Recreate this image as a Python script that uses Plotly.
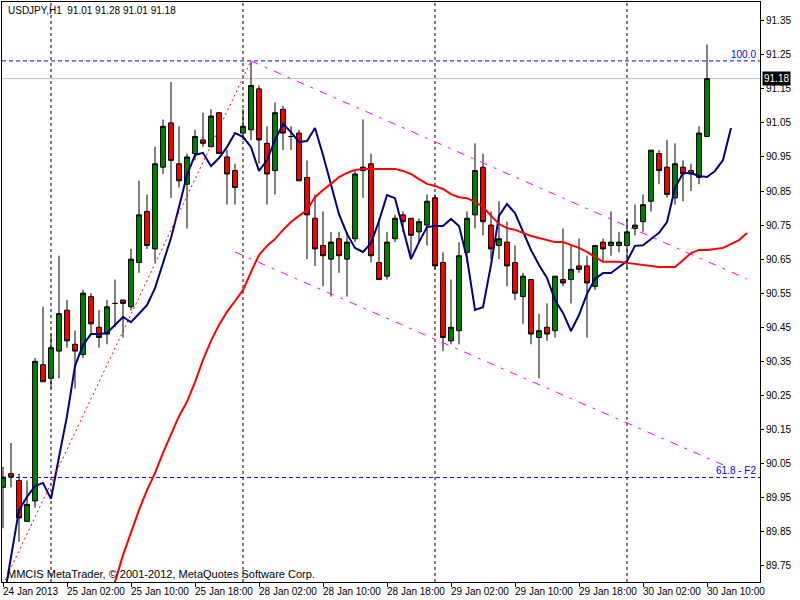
import plotly.graph_objects as go

# ---------------- data ----------------
symbol_title = "USDJPY,H1\u00a0\u00a091.01 91.28 91.01 91.18"
copyright_text = "MMCIS MetaTrader, \u00a9 2001-2012, MetaQuotes Software Corp."

label_bars = [0, 8, 16, 24, 32, 40, 48, 56, 64, 72, 80, 88]
time_labels = ["24 Jan 2013", "25 Jan 02:00", "25 Jan 10:00", "25 Jan 18:00",
               "28 Jan 02:00", "28 Jan 10:00", "28 Jan 18:00", "29 Jan 02:00",
               "29 Jan 10:00", "29 Jan 18:00", "30 Jan 02:00", "30 Jan 10:00"]

open_ = [89.98, 90.02, 90.00, 89.88, 89.94, 90.34, 90.30, 90.38, 90.50, 90.40,
         90.37, 90.54, 90.45, 90.43, 90.52, 90.53, 90.51, 90.64, 90.79, 90.68,
         90.92, 91.05, 90.93, 90.87, 90.96, 91.00, 90.98, 91.08, 90.95, 90.91,
         91.02, 91.03, 91.15, 90.99, 90.91, 91.09, 91.01, 91.02, 90.89, 90.77,
         90.69, 90.65, 90.71, 90.65, 90.71, 90.91, 90.93, 90.64, 90.60, 90.71,
         90.78, 90.77, 90.73, 90.75, 90.83, 90.64, 90.41, 90.44, 90.67, 90.78,
         90.92, 90.75, 90.69, 90.70, 90.64, 90.54, 90.59, 90.42, 90.45, 90.44,
         90.59, 90.59, 90.63, 90.63, 90.57, 90.70, 90.69, 90.69, 90.69, 90.74,
         90.76, 90.82, 90.96, 90.92, 90.83, 90.92, 90.91, 90.89, 91.01]
high = [90.04, 90.11, 90.02, 90.00, 90.36, 90.51, 90.43, 90.66, 90.53, 90.44,
        90.56, 90.55, 90.50, 90.53, 90.59, 90.53, 90.68, 90.88, 90.84, 90.98,
        91.06, 91.17, 91.04, 90.96, 91.03, 91.08, 91.09, 91.08, 90.97, 90.93,
        91.09, 91.23, 91.16, 91.04, 91.11, 91.10, 91.04, 91.03, 90.94, 90.84,
        90.79, 90.73, 90.73, 90.73, 90.91, 91.06, 90.96, 90.77, 90.73, 90.78,
        90.79, 90.77, 90.77, 90.84, 90.84, 90.67, 90.59, 90.70, 90.79, 90.99,
        90.96, 90.79, 90.82, 90.76, 90.69, 90.61, 90.59, 90.49, 90.52, 90.60,
        90.74, 90.69, 90.71, 90.66, 90.69, 90.71, 90.79, 90.73, 90.77, 90.81,
        90.84, 90.97, 90.97, 91.00, 90.99, 90.94, 90.93, 91.04, 91.28]
low = [89.86, 89.98, 89.82, 89.88, 89.92, 90.29, 90.27, 90.30, 90.39, 90.27,
       90.36, 90.43, 90.39, 90.40, 90.45, 90.42, 90.50, 90.61, 90.68, 90.64,
       90.90, 90.83, 90.86, 90.74, 90.94, 90.98, 90.98, 90.96, 90.81, 90.81,
       91.00, 91.00, 90.93, 90.81, 90.84, 90.97, 90.97, 90.88, 90.65, 90.63,
       90.57, 90.54, 90.61, 90.54, 90.70, 90.83, 90.64, 90.59, 90.59, 90.70,
       90.73, 90.65, 90.70, 90.69, 90.62, 90.38, 90.40, 90.40, 90.64, 90.74,
       90.72, 90.65, 90.65, 90.57, 90.53, 90.46, 90.40, 90.30, 90.41, 90.42,
       90.57, 90.52, 90.61, 90.42, 90.56, 90.64, 90.66, 90.67, 90.62, 90.72,
       90.73, 90.79, 90.87, 90.83, 90.81, 90.82, 90.85, 90.87, 91.01]
close = [90.01, 90.01, 89.89, 89.93, 90.35, 90.29, 90.39, 90.49, 90.41, 90.38,
         90.55, 90.46, 90.42, 90.51, 90.52, 90.52, 90.65, 90.78, 90.69, 90.93,
         91.04, 90.94, 90.88, 90.95, 91.01, 90.99, 91.07, 90.96, 90.90, 90.86,
         91.04, 91.16, 91.00, 90.90, 91.08, 91.02, 91.01, 90.88, 90.78, 90.68,
         90.66, 90.70, 90.66, 90.70, 90.90, 90.92, 90.66, 90.59, 90.70, 90.77,
         90.76, 90.72, 90.76, 90.82, 90.63, 90.42, 90.45, 90.66, 90.77, 90.91,
         90.76, 90.68, 90.71, 90.63, 90.55, 90.60, 90.43, 90.44, 90.43, 90.60,
         90.58, 90.62, 90.62, 90.58, 90.69, 90.68, 90.70, 90.70, 90.73, 90.75,
         90.81, 90.97, 90.91, 90.84, 90.93, 90.90, 90.90, 91.02, 91.18]

# fast moving average (navy), drawn 3 bars ahead of price: bars 0..91
blue_ma = [89.637, 89.775, 89.913, 89.952, 89.984, 89.993, 89.946, 90.069, 90.189, 90.336,
           90.398, 90.430, 90.430, 90.433, 90.457, 90.480, 90.465, 90.489, 90.515, 90.565,
           90.642, 90.712, 90.803, 90.897, 90.956, 90.962, 90.923, 90.947, 90.979, 91.020,
           91.009, 90.979, 90.909, 90.940, 91.000, 91.047, 91.023, 90.994, 90.997, 91.035,
           90.956, 90.873, 90.782, 90.724, 90.683, 90.671, 90.697, 90.762, 90.838, 90.829,
           90.741, 90.650, 90.700, 90.744, 90.747, 90.747, 90.768, 90.747, 90.653, 90.501,
           90.509, 90.633, 90.777, 90.812, 90.785, 90.730, 90.677, 90.633, 90.595, 90.530,
           90.492, 90.439, 90.486, 90.548, 90.592, 90.609, 90.609, 90.627, 90.644, 90.689,
           90.691, 90.709, 90.727, 90.759, 90.859, 90.903, 90.903, 90.894, 90.891, 90.909,
           90.941, 91.035]
blue_ma_first_bar = 0

# slow moving average (red): bars 13..93
red_ma = [89.614, 89.702, 89.781, 89.849, 89.913, 89.972, 90.022, 90.081, 90.137, 90.189,
          90.231, 90.289, 90.354, 90.410, 90.457, 90.495, 90.527, 90.559, 90.612, 90.662,
          90.689, 90.709, 90.736, 90.759, 90.777, 90.794, 90.832, 90.853, 90.871, 90.891,
          90.903, 90.912, 90.915, 90.915, 90.915, 90.915, 90.915, 90.909, 90.900, 90.885,
          90.871, 90.865, 90.856, 90.841, 90.832, 90.829, 90.818, 90.803, 90.777, 90.753,
          90.741, 90.736, 90.727, 90.718, 90.712, 90.706, 90.700, 90.700, 90.691, 90.683,
          90.671, 90.656, 90.642, 90.642, 90.642, 90.639, 90.636, 90.633, 90.630, 90.627,
          90.627, 90.627, 90.647, 90.668, 90.677, 90.677, 90.680, 90.683, 90.694, 90.706,
          90.727]
red_ma_first_bar = 13

# drawn objects
upper_channel_bars = [31, 93]
upper_channel_prices = [91.232, 90.592]
lower_channel_bars = [29, 90]
lower_channel_prices = [90.671, 90.046]
fib_trend_bars = [0, 31]
fib_trend_prices = [89.694, 91.232]
fib_levels = [91.232, 90.009]
fib_labels = ["100.0", "61.8 - F2"]
day_separator_bars = [6, 30, 54, 78]
bid_price = 91.18

y_ticks = [89.75, 89.85, 89.95, 90.05, 90.15, 90.25, 90.35, 90.45, 90.55,
           90.65, 90.75, 90.85, 90.95, 91.05, 91.15, 91.25, 91.35]

# ---------------- figure ----------------
FONT = "Liberation Sans, Arial, sans-serif"
bars = list(range(len(open_)))

fig = go.Figure()

fig.add_trace(go.Candlestick(
    x=bars, open=open_, high=high, low=low, close=close,
    increasing=dict(fillcolor="#008000", line=dict(color="#000000", width=1)),
    decreasing=dict(fillcolor="#FF0000", line=dict(color="#000000", width=1)),
    whiskerwidth=0, showlegend=False, hoverinfo="skip"))

fig.add_trace(go.Scatter(
    x=list(range(blue_ma_first_bar, blue_ma_first_bar + len(blue_ma))), y=blue_ma,
    mode="lines", line=dict(color="#000080", width=2), showlegend=False, hoverinfo="skip"))
fig.add_trace(go.Scatter(
    x=list(range(red_ma_first_bar, red_ma_first_bar + len(red_ma))), y=red_ma,
    mode="lines", line=dict(color="#FF0000", width=2), showlegend=False, hoverinfo="skip"))

for bx, py in [(upper_channel_bars, upper_channel_prices), (lower_channel_bars, lower_channel_prices)]:
    fig.add_trace(go.Scatter(x=bx, y=py, mode="lines",
                             line=dict(color="#FF00FF", width=1, dash="8px,7px,3px,7px"),
                             showlegend=False, hoverinfo="skip"))
fig.add_trace(go.Scatter(x=fib_trend_bars, y=fib_trend_prices, mode="lines",
                         line=dict(color="#FF0000", width=1, dash="2px,3px"),
                         showlegend=False, hoverinfo="skip"))

shapes = []
for b in day_separator_bars:
    shapes.append(dict(type="line", xref="x", yref="paper", x0=b, x1=b, y0=0, y1=1,
                       line=dict(color="#000000", width=1, dash="3px,3px"), layer="below"))
for lv in fib_levels:
    shapes.append(dict(type="line", xref="paper", yref="y", x0=0, x1=1, y0=lv, y1=lv,
                       line=dict(color="#0000FF", width=1, dash="4px,3px"), layer="below"))
shapes.append(dict(type="line", xref="paper", yref="y", x0=0, x1=1, y0=bid_price, y1=bid_price,
                   line=dict(color="#C0C0C0", width=1), layer="below"))

annotations = []
for b, t in zip(label_bars, time_labels):
    annotations.append(dict(x=b, xref="x", y=-0.004, yref="paper", text=t, showarrow=False,
                            xanchor="left", yanchor="top", xshift=-2,
                            font=dict(family=FONT, size=10, color="#000000")))
for lv, t in zip(fib_levels, fib_labels):
    annotations.append(dict(x=0.998, xref="paper", y=lv, yref="y", text=t, showarrow=False,
                            xanchor="right", yanchor="bottom", yshift=-1,
                            font=dict(family=FONT, size=10, color="#0000FF")))
annotations.append(dict(x=0.0055, xref="paper", y=0.998, yref="paper", text=symbol_title,
                        showarrow=False, xanchor="left", yanchor="top",
                        font=dict(family=FONT, size=10, color="#000000")))
annotations.append(dict(x=0.004, xref="paper", y=0.0, yref="paper", text=copyright_text,
                        showarrow=False, xanchor="left", yanchor="bottom",
                        font=dict(family=FONT, size=11, color="#000000")))
annotations.append(dict(x=1.0026, xref="paper", y=bid_price, yref="y", text="91.18",
                        showarrow=False, xanchor="left", yanchor="middle",
                        bgcolor="#000000", borderpad=1,
                        font=dict(family=FONT, size=10, color="#FFFFFF")))

fig.update_layout(
    width=800, height=600,
    margin=dict(l=2, r=40, t=2, b=18, pad=0),
    paper_bgcolor="#FFFFFF", plot_bgcolor="#FFFFFF",
    boxgap=0.25, boxgroupgap=0.2,
    hovermode=False,
    shapes=shapes, annotations=annotations,
    font=dict(family=FONT, size=10, color="#000000"),
    xaxis=dict(range=[-0.125, 94.625], rangeslider=dict(visible=False),
               showgrid=False, zeroline=False, showline=True, linecolor="#000000",
               linewidth=1, mirror=True, tickmode="array", tickvals=label_bars,
               ticks="outside", ticklen=4, tickcolor="#000000", showticklabels=False),
    yaxis=dict(range=[89.702, 91.405], side="right", showgrid=False, zeroline=False,
               showline=True, linecolor="#000000", linewidth=1, mirror=True,
               tickmode="array", tickvals=y_ticks, ticktext=["%.2f" % v for v in y_ticks],
               ticks="outside", ticklen=3, tickcolor="#000000",
               tickfont=dict(family=FONT, size=10, color="#000000")),
)

fig.write_html("out.html", config={"displayModeBar": False},
               post_script="document.body.style.margin='0px';document.body.style.overflow='hidden';")
